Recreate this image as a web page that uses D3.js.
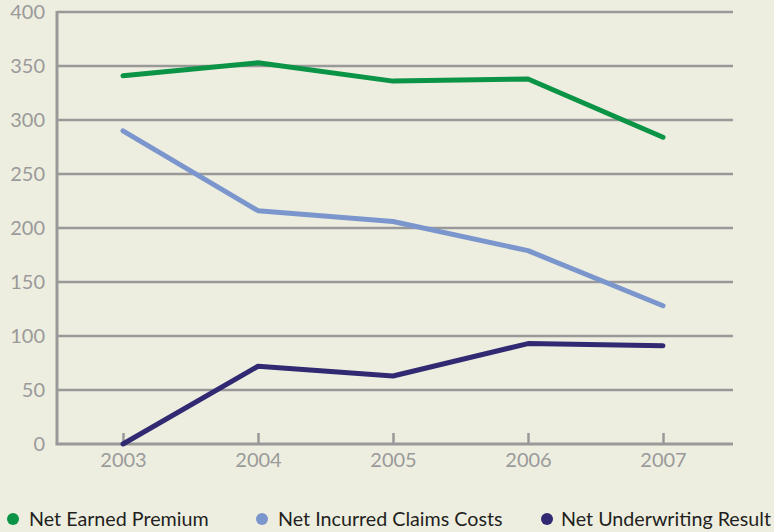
<!DOCTYPE html>
<html>
<head>
<meta charset="utf-8">
<script src="https://cdn.jsdelivr.net/npm/d3@7"></script>
<style>
  html, body { margin: 0; padding: 0; background: #eeeee0; overflow: hidden; }
  svg { display: block; }
  text { font-family: "Lato", "Noto Sans", sans-serif; }
</style>
</head>
<body>
<svg id="chart" width="774" height="532"></svg>
<script>
// Annual figures
const years = ["2003", "2004", "2005", "2006", "2007"];
const netEarnedPremium = [341, 353, 336, 338, 284];
const netIncurredClaims = [290, 216, 206, 179, 128];
const netUnderwritingResult = [0, 72, 63, 93, 91];
const yTicks = [0, 50, 100, 150, 200, 250, 300, 350, 400];

const seriesNames = ["Net Earned Premium", "Net Incurred Claims Costs", "Net Underwriting Result"];
const seriesColors = ["#0b9446", "#7b96cd", "#312a72"];
const seriesValues = [netEarnedPremium, netIncurredClaims, netUnderwritingResult];

const svg = d3.select("#chart");
const plotLeft = 57, plotRight = 733, plotTop = 12, plotBottom = 444;

const x = d3.scalePoint().domain(years).range([55.5, 730.5]).padding(0.5);
const y = d3.scaleLinear().domain([0, 400]).range([plotBottom, plotTop]);

const grey = "#999999";
const labelGrey = "#9a9a9a";

// horizontal gridlines
svg.append("g").selectAll("line")
  .data(yTicks.filter(d => d > 0))
  .join("line")
  .attr("x1", plotLeft).attr("x2", plotRight)
  .attr("y1", d => y(d)).attr("y2", d => y(d))
  .attr("stroke", grey).attr("stroke-width", 2.5);

// y axis labels
svg.append("g").selectAll("text")
  .data(yTicks)
  .join("text")
  .attr("x", 45).attr("y", d => y(d) + 7)
  .attr("text-anchor", "end")
  .attr("font-size", 20)
  .attr("fill", labelGrey)
  .text(d => d);

// x axis: inward ticks and labels
const xAxis = d3.axisBottom(x).tickSize(-11).tickPadding(21);
const gx = svg.append("g").attr("transform", `translate(0,${plotBottom})`).call(xAxis);
gx.select(".domain").remove();
gx.selectAll(".tick line").attr("stroke", grey).attr("stroke-width", 2.5);
gx.selectAll(".tick text").attr("font-size", 20).attr("fill", labelGrey)
  .attr("dy", "0.1em").style("font-family", "Lato, 'Noto Sans', sans-serif");

// baseline and y axis line
svg.append("line").attr("x1", plotLeft - 1.5).attr("x2", plotRight)
  .attr("y1", plotBottom).attr("y2", plotBottom)
  .attr("stroke", grey).attr("stroke-width", 3);
svg.append("line").attr("x1", plotLeft).attr("x2", plotLeft)
  .attr("y1", plotTop - 1).attr("y2", plotBottom)
  .attr("stroke", grey).attr("stroke-width", 3);

// series lines
const line = d3.line().x((d, i) => x(years[i])).y(d => y(d));
svg.append("g").selectAll("path")
  .data(seriesValues)
  .join("path")
  .attr("d", d => line(d))
  .attr("fill", "none")
  .attr("stroke", (d, i) => seriesColors[i])
  .attr("stroke-width", 5)
  .attr("stroke-linecap", "round")
  .attr("stroke-linejoin", "round");

// legend
const legendX = [13, 262, 547];
const lg = svg.append("g").selectAll("g")
  .data(seriesNames)
  .join("g")
  .attr("transform", (d, i) => `translate(${legendX[i]},519)`);
lg.append("circle").attr("r", 6).attr("fill", (d, i) => seriesColors[i]);
lg.append("text").attr("x", (d, i) => i === 2 ? 14 : 16).attr("y", 7)
  .attr("font-size", 19.7).attr("fill", "#231f20")
  .text(d => d);
</script>
</body>
</html>
